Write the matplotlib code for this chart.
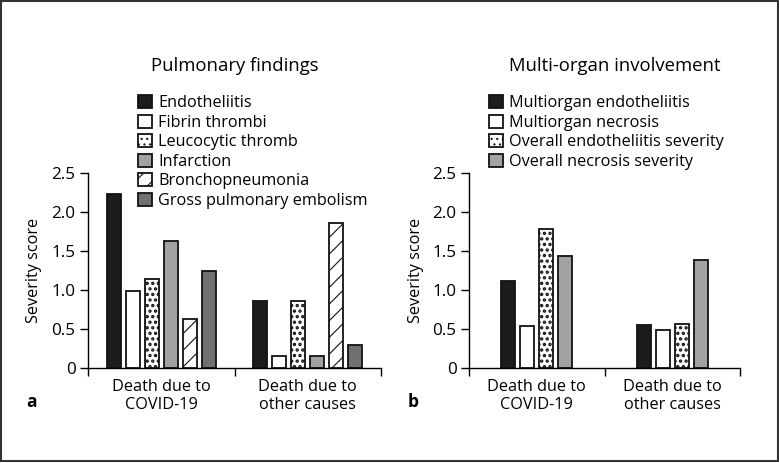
import matplotlib
matplotlib.use("Agg")
from matplotlib import pyplot as plt
from matplotlib.patches import Rectangle
import numpy as np

plt.rcParams['font.family'] = ['Open Sans', 'DejaVu Sans']

# data
groups = ["Death due to\nCOVID-19", "Death due to\nother causes"]

pulm_labels = ["Endotheliitis", "Fibrin thrombi", "Leucocytic thromb",
               "Infarction", "Bronchopneumonia", "Gross pulmonary embolism"]
pulm_covid = [2.24, 0.99, 1.14, 1.63, 0.63, 1.25]
pulm_other = [0.86, 0.15, 0.86, 0.15, 1.86, 0.29]

multi_labels = ["Multiorgan endotheliitis", "Multiorgan necrosis",
                "Overall endotheliitis severity", "Overall necrosis severity"]
multi_covid = [1.12, 0.54, 1.79, 1.44]
multi_other = [0.545, 0.49, 0.56, 1.38]

yticks = [0, 0.5, 1.0, 1.5, 2.0, 2.5]
yticklabels = ["0", "0.5", "1.0", "1.5", "2.0", "2.5"]

# (facecolor, hatch) for each series
pulm_style = [("#1c1c1c", ""), ("white", ""), ("white", "..."),
              ("#a2a2a2", ""), ("white", "//"), ("#707070", "")]
multi_style = [("#1c1c1c", ""), ("white", ""), ("white", "..."),
               ("#a2a2a2", "")]

FS = 11.7
W, H = 779, 463
fig = plt.figure(figsize=(W / 100, H / 100), dpi=100)


def px_axes(x0, x1, y_top, y_bot):
    return fig.add_axes([x0 / W, 1 - y_bot / H, (x1 - x0) / W, (y_bot - y_top) / H])


def draw_panel(ax, labels, covid, other, styles, step, width):
    n = len(labels)
    offs = (np.arange(n) - (n - 1) / 2) * step
    for i in range(n):
        fc, hatch = styles[i]
        plt.rcParams['hatch.linewidth'] = 1.6 if hatch.startswith('.') else 0.8
        vals = [covid[i], other[i]]
        ax.bar(np.arange(2) + offs[i], vals, width, color=fc,
               edgecolor="#111111", linewidth=1.3, hatch=hatch,
               label=labels[i], zorder=2)
    ax.set_xlim(-0.5, 1.5)
    ax.set_ylim(0, 2.5)
    ax.set_yticks(yticks)
    ax.set_yticklabels(yticklabels)
    ax.set_xticks([0, 1])
    ax.set_xticklabels(groups, fontsize=FS, linespacing=1.15)
    ax.set_xticks([-0.5, 0.5, 1.5], minor=True)
    ax.tick_params(axis='x', which='major', length=0, pad=8)
    ax.tick_params(axis='x', which='minor', length=6, width=1, direction='out')
    ax.tick_params(axis='y', length=6, width=1, labelsize=12.3, pad=3)
    for s in ["top", "right"]:
        ax.spines[s].set_visible(False)
    for s in ["left", "bottom"]:
        ax.spines[s].set_linewidth(1.0)
    ax.set_ylabel("Severity score", fontsize=FS)


ax1 = px_axes(88, 381, 173.3, 367.7)
draw_panel(ax1, pulm_labels, pulm_covid, pulm_other, pulm_style, 0.13, 0.096)
ax1.yaxis.set_label_coords(-46 / 293, 0.5)

ax2 = px_axes(469, 740, 173.3, 367.7)
draw_panel(ax2, multi_labels, multi_covid, multi_other, multi_style, 0.14, 0.103)
ax2.yaxis.set_label_coords(-45 / 271, 0.5)

for ax, anchor in [(ax1, 138), (ax2, 489)]:
    ax.legend(loc="upper left", bbox_to_anchor=(anchor / W, 1 - 95 / H),
              bbox_transform=fig.transFigure, frameon=False, fontsize=FS,
              handlelength=0.88, handleheight=0.88, handletextpad=0.35,
              labelspacing=0.2, borderpad=0, borderaxespad=0)

fig.text(235 / W, 1 - 66 / H, "Pulmonary findings", fontsize=13.3,
         ha="center", va="center")
fig.text(615 / W, 1 - 66 / H, "Multi-organ involvement", fontsize=13.3,
         ha="center", va="center")
fig.text(32 / W, 1 - 402 / H, "a", fontsize=12.5, fontweight="bold",
         ha="center", va="center")
fig.text(413 / W, 1 - 402 / H, "b", fontsize=12.5, fontweight="bold",
         ha="center", va="center")

fig.patches.append(Rectangle((0.6 / W, 2 / H), 777.5 / W, 1 - 2.6 / H,
                             transform=fig.transFigure, fill=False,
                             edgecolor="#333333", linewidth=1.5))

fig.savefig("out.png", dpi=100)
